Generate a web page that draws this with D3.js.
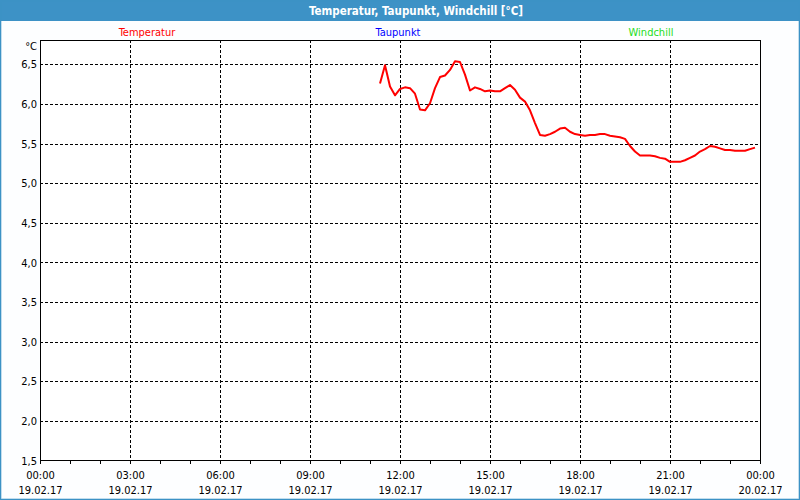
<!DOCTYPE html>
<html>
<head>
<meta charset="utf-8">
<script src="https://cdn.jsdelivr.net/npm/d3@7"></script>
<style>
  html, body { margin: 0; padding: 0; background: #ffffff; }
  svg { display: block; }
  text { font-family: "DejaVu Sans Condensed", "DejaVu Sans", sans-serif; }
</style>
</head>
<body>
<svg id="chart" width="800" height="500"></svg>
<script>
// ---- data ----
const title = "Temperatur, Taupunkt, Windchill [°C]";
const seriesNames = ["Temperatur", "Taupunkt", "Windchill"];
const seriesColors = ["#ff0000", "#0000ff", "#22dd22"];
const yUnit = "°C";
const yTicks = [1.5, 2.0, 2.5, 3.0, 3.5, 4.0, 4.5, 5.0, 5.5, 6.0, 6.5];
const xStart = "2017-02-19T00:00";
const xEnd = "2017-02-20T00:00";
const times = [
  "11:20","11:30","11:40","11:50","12:00","12:10","12:20","12:30","12:40","12:50",
  "13:00","13:10","13:20","13:30","13:40","13:50","14:00","14:10","14:20","14:30",
  "14:40","14:50","15:00","15:10","15:20","15:30","15:40","15:50","16:00","16:10",
  "16:20","16:30","16:40","16:50","17:00","17:10","17:20","17:30","17:40","17:50",
  "18:00","18:10","18:20","18:30","18:40","18:50","19:00","19:10","19:20","19:30",
  "19:40","19:50","20:00","20:10","20:20","20:30","20:40","20:50","21:00","21:10",
  "21:20","21:30","21:40","21:50","22:00","22:10","22:20","22:30","22:40","22:50",
  "23:00","23:10","23:20","23:30","23:40","23:50"
];
const temperatur = [
  6.26,6.49,6.22,6.11,6.19,6.21,6.20,6.13,5.93,5.92,
  6.01,6.20,6.34,6.36,6.43,6.54,6.53,6.37,6.17,6.21,
  6.19,6.16,6.17,6.16,6.16,6.20,6.24,6.18,6.08,6.03,
  5.92,5.76,5.61,5.60,5.62,5.65,5.69,5.70,5.65,5.62,
  5.61,5.60,5.61,5.61,5.62,5.62,5.60,5.59,5.58,5.56,
  5.47,5.40,5.35,5.35,5.35,5.34,5.32,5.31,5.27,5.27,
  5.27,5.29,5.32,5.35,5.40,5.43,5.47,5.46,5.44,5.42,
  5.42,5.41,5.41,5.41,5.43,5.45
];

// ---- layout ----
const W = 800, H = 500;
const plot = { left: 40, right: 760, top: 40, bottom: 460 };
const svg = d3.select("#chart");

const parseDay = d3.timeParse("%Y-%m-%dT%H:%M");
const t0 = parseDay(xStart), t1 = parseDay(xEnd);
const parseT = s => parseDay("2017-02-19T" + s);

const x = d3.scaleTime().domain([t0, t1]).range([plot.left, plot.right]);
const y = d3.scaleLinear().domain([1.5, 6.8]).range([plot.bottom + 0.6, plot.top + 0.6]);

// background
svg.append("rect").attr("x", 0).attr("y", 0).attr("width", W).attr("height", H).attr("fill", "#fdfeff");

// title bar + frame
const frameColor = "#3d92c6";
svg.append("rect").attr("x", 0).attr("y", 0).attr("width", W).attr("height", 21).attr("fill", frameColor);
svg.append("rect").attr("x", 0.5).attr("y", 0.5).attr("width", W - 1).attr("height", H - 1)
  .attr("fill", "none").attr("stroke", frameColor).attr("stroke-width", 1);
svg.append("rect").attr("x", 1).attr("y", 1).attr("width", W - 2).attr("height", H - 2)
  .attr("fill", "none").attr("stroke", frameColor).attr("stroke-width", 1).attr("opacity", 0.6);
svg.append("text").attr("x", 416).attr("y", 15).attr("text-anchor", "middle")
  .attr("fill", "#ffffff").attr("font-weight", "bold").attr("font-size", 11.5).text(title);

// legend
const legendX = [147, 398, 651];
seriesNames.forEach((n, i) => {
  svg.append("text").attr("x", legendX[i]).attr("y", 36).attr("text-anchor", "middle")
    .attr("fill", seriesColors[i]).attr("font-size", 11).text(n);
});

// plot background
svg.append("rect").attr("x", plot.left).attr("y", plot.top)
  .attr("width", plot.right - plot.left).attr("height", plot.bottom - plot.top).attr("fill", "#ffffff");

// horizontal gridlines
const gH = svg.append("g").attr("transform", `translate(${plot.left},0)`)
  .call(d3.axisLeft(y).tickValues(yTicks.filter(v => v > 1.5)).tickSize(-(plot.right - plot.left)).tickFormat(""));
gH.select(".domain").remove();
gH.selectAll("line").attr("stroke", "#000").attr("stroke-dasharray", "3,2").attr("shape-rendering", "crispEdges");

// vertical gridlines
const gV = svg.append("g").attr("transform", `translate(0,${plot.top})`)
  .call(d3.axisTop(x).ticks(d3.timeHour.every(3)).tickSize(-(plot.bottom - plot.top)).tickFormat(""));
gV.select(".domain").remove();
gV.selectAll(".tick").filter(d => +d === +t0 || +d === +t1).remove();
gV.selectAll("line").attr("stroke", "#000").attr("stroke-dasharray", "3,2").attr("shape-rendering", "crispEdges");

// plot border
svg.append("rect").attr("x", plot.left + 0.5).attr("y", plot.top + 0.5)
  .attr("width", plot.right - plot.left).attr("height", plot.bottom - plot.top)
  .attr("fill", "none").attr("stroke", "#000").attr("stroke-width", 1).attr("shape-rendering", "crispEdges");

// hourly minor ticks
const gT = svg.append("g").attr("transform", `translate(0,${plot.bottom})`)
  .call(d3.axisBottom(x).ticks(d3.timeHour.every(1)).tickSize(4).tickFormat(""));
gT.select(".domain").remove();
gT.selectAll("line").attr("stroke", "#000").attr("shape-rendering", "crispEdges");

// x labels
const fmtT = d3.timeFormat("%H:%M"), fmtD = d3.timeFormat("%d.%m.%y");
const gX = svg.append("g").attr("transform", `translate(0,${plot.bottom})`)
  .call(d3.axisBottom(x).ticks(d3.timeHour.every(3)).tickSize(0).tickFormat(""));
gX.select(".domain").remove();
gX.selectAll(".tick text").remove();
gX.selectAll(".tick").each(function(d) {
  const g = d3.select(this);
  g.append("text").attr("y", 19).attr("text-anchor", "middle").attr("fill", "#000")
    .attr("font-size", 11).text(fmtT(d));
  g.append("text").attr("y", 34).attr("text-anchor", "middle").attr("fill", "#000")
    .attr("font-size", 11).text(fmtD(d));
});

// y labels
const gY = svg.append("g").attr("transform", `translate(${plot.left},0)`)
  .call(d3.axisLeft(y).tickValues(yTicks).tickSize(0).tickPadding(3)
    .tickFormat(d => d.toFixed(1).replace(".", ",")));
gY.select(".domain").remove();
gY.selectAll("text").attr("font-size", 11).attr("fill", "#000")
  .attr("font-family", "\"DejaVu Sans Condensed\", \"DejaVu Sans\", sans-serif");

// unit
svg.append("text").attr("x", 37).attr("y", 50).attr("text-anchor", "end")
  .attr("font-size", 11).attr("fill", "#000").text(yUnit);

// temperature line
const data = times.map((t, i) => ({ t: parseT(t), v: temperatur[i] }));
svg.append("path").datum(data)
  .attr("fill", "none").attr("stroke", seriesColors[0]).attr("stroke-width", 2)
  .attr("stroke-linejoin", "round")
  .attr("d", d3.line().x(d => x(d.t)).y(d => y(d.v)));
</script>
</body>
</html>
